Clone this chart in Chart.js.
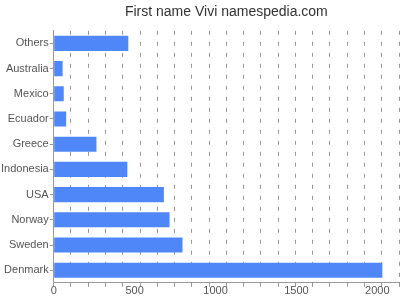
<!DOCTYPE html>
<html>
<head>
<meta charset="utf-8">
<script src="https://cdn.jsdelivr.net/npm/chart.js@4"></script>
<style>
  body { margin: 0; background: #fff; }
  #wrap { width: 400px; height: 300px; }
</style>
</head>
<body>
<div id="wrap"><canvas id="nameChart"></canvas></div>
<script>
const countries = ['Others', 'Australia', 'Mexico', 'Ecuador', 'Greece', 'Indonesia', 'USA', 'Norway', 'Sweden', 'Denmark'];
const counts = [461, 55, 62, 77, 264, 455, 681, 716, 796, 2031];
const xLabels = [0, 500, 1000, 1500, 2000];
const xMax = 2134;
const gridSteps = 20;

const config = {
  type: 'bar',
  data: {
    labels: countries,
    datasets: [{
      data: counts,
      backgroundColor: '#4f87f8',
      borderWidth: 0,
      barPercentage: 0.6,
      categoryPercentage: 1
    }]
  },
  options: {
    indexAxis: 'y',
    responsive: true,
    maintainAspectRatio: false,
    animation: false,
    layout: { padding: { top: 3, right: 1, left: 0, bottom: 4 } },
    plugins: {
      legend: { display: false },
      tooltip: { enabled: false },
      title: {
        display: true,
        text: 'First name Vivi namespedia.com',
        fullSize: false,
        color: '#333',
        font: { family: 'Liberation Sans', size: 14, weight: 'normal' },
        padding: { top: 1, bottom: 10 }
      }
    },
    scales: {
      x: {
        min: 0,
        max: xMax,
        afterBuildTicks: axis => {
          // minor grid at equal divisions, labels at round values
          const t = [];
          for (let i = 0; i <= gridSteps; i++) t.push({ value: xMax * i / gridSteps, grid: true });
          xLabels.forEach(v => { if (v > 0) t.push({ value: v, grid: false }); });
          t.sort((a, b) => a.value - b.value);
          axis.ticks = t;
        },
        ticks: {
          autoSkip: false,
          maxRotation: 0,
          color: '#555',
          font: { family: 'Liberation Sans', size: 11 },
          padding: -2,
          callback: function (v, i, ticks) {
            return ticks[i].grid && v !== 0 ? '' : v;
          }
        },
        grid: {
          color: ctx => (ctx.tick && ctx.tick.grid) ? '#999' : 'rgba(0,0,0,0)',
          lineWidth: 1,
          tickLength: 4,
          tickBorderDash: [],
          tickColor: ctx => (ctx.tick && ctx.tick.grid) ? '#999' : 'rgba(0,0,0,0)'
        },
        border: { color: '#999', dash: [4, 7] }
      },
      y: {
        ticks: {
          color: '#555',
          font: { family: 'Liberation Sans', size: 11 },
          padding: 1
        },
        grid: {
          offset: false,
          drawOnChartArea: false,
          tickLength: 4,
          color: '#999'
        },
        border: { color: '#999' }
      }
    }
  }
};

new Chart(document.getElementById('nameChart'), config);
</script>
</body>
</html>
